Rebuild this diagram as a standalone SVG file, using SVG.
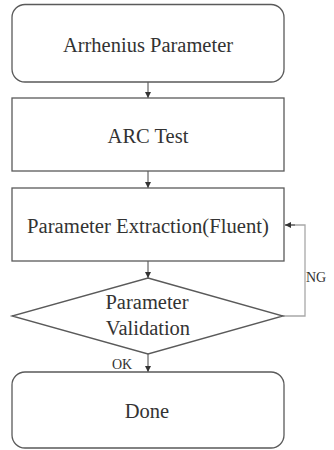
<svg xmlns="http://www.w3.org/2000/svg" width="334" height="450" viewBox="0 0 334 450">
  <style>
    .box { fill: #ffffff; stroke: #5a5a5a; stroke-width: 1.3; }
    .label { font-family: 'Liberation Serif', Tinos, 'Times New Roman', 'DejaVu Serif', serif; font-size: 20.5px; fill: #333333; text-anchor: middle; }
    .small { font-family: 'Liberation Serif', Tinos, 'Times New Roman', 'DejaVu Serif', serif; font-size: 14px; fill: #333333; }
    .link { fill: none; stroke: #444444; stroke-width: 1; }
    .loop { fill: none; stroke: #a8a8a8; stroke-width: 1.3; }
  </style>
  <defs>
    <marker id="arrow" viewBox="0 0 8 8" refX="8" refY="4" markerWidth="6" markerHeight="6" orient="auto" markerUnits="userSpaceOnUse">
      <path d="M0,0 L8,4 L0,8 Z" fill="#333333"/>
    </marker>
  </defs>

  <rect width="334" height="450" fill="#ffffff"/>

  <g id="connectors">
    <line class="link" x1="148" y1="82" x2="148" y2="98" marker-end="url(#arrow)"/>
    <line class="link" x1="148" y1="171" x2="148" y2="188" marker-end="url(#arrow)"/>
    <line class="link" x1="148" y1="261" x2="148" y2="278" marker-end="url(#arrow)"/>
    <line class="link" x1="148" y1="354" x2="148" y2="372" marker-end="url(#arrow)"/>
    <polyline class="loop" points="283,316 305,316 305,225 285,225"/>
    <line class="link" x1="295" y1="225" x2="285" y2="225" marker-end="url(#arrow)"/>
    <text class="small" x="112" y="369">OK</text>
    <text class="small" x="306" y="282">NG</text>
  </g>

  <g id="arrhenius">
    <rect class="box" x="12" y="4.5" width="272" height="77.5" rx="13"/>
    <text class="label" x="148" y="52">Arrhenius Parameter</text>
  </g>

  <g id="arc-test">
    <rect class="box" x="12" y="98" width="272" height="73"/>
    <text class="label" x="148" y="143">ARC Test</text>
  </g>

  <g id="extraction">
    <rect class="box" x="12" y="188" width="272" height="73"/>
    <text class="label" x="148" y="233" textLength="242" lengthAdjust="spacingAndGlyphs">Parameter Extraction(Fluent)</text>
  </g>

  <g id="validation">
    <polygon class="box" points="148,278 283,316 148,354 12,316"/>
    <text class="label" x="147" y="309">Parameter</text>
    <text class="label" x="148" y="335">Validation</text>
  </g>

  <g id="done">
    <rect class="box" x="12" y="372" width="272" height="76" rx="13"/>
    <text class="label" x="147" y="418">Done</text>
  </g>
</svg>
